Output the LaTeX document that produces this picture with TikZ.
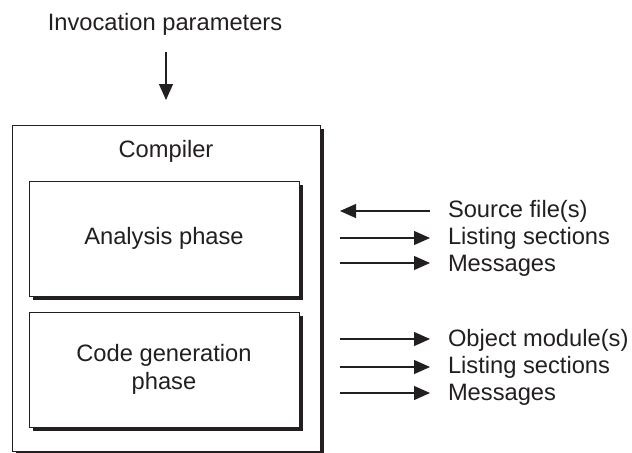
\documentclass[tikz,border=0pt]{standalone}
\usepackage{fontspec}
\setmainfont{Liberation Sans}
\usetikzlibrary{arrows.meta,shadows}
\definecolor{ink}{HTML}{231F20}
\begin{document}
\begin{tikzpicture}[x=0.5pt,y=-0.5pt,
  every node/.style={text=ink, font=\fontsize{11.85}{13.75}\selectfont, inner sep=0pt, outer sep=0pt},
  box/.style={draw=ink, line width=0.5pt, fill=white, align=center,
    general shadow={fill=ink, shadow xshift=2pt, shadow yshift=-2pt}},
  lab/.style={anchor=west, text height=0.716em, text depth=0pt},
  arr/.style={draw=ink, line width=0.6pt, -{Triangle[length=8pt,width=7pt]}}]
\useasboundingbox (0,0) rectangle (632,452);

\node[text height=0.716em, text depth=0pt] (inv) at (165,23) {Invocation parameters};
\coordinate (invA) at (166,52);
\coordinate (invB) at (166,100);
\draw[arr] (invA) -- (invB);

\node[box, minimum width=154pt, minimum height=163pt] (compiler) at (166,288) {};
\node[text height=0.716em, text depth=0pt] (comptitle) at (166,150) {Compiler};

\node[box, minimum width=135pt, minimum height=57.5pt] (analysis) at (164,238.5) {Analysis phase};
\node[box, minimum width=135pt, minimum height=57.5pt] (codegen) at (164,369.5) {Code generation\\phase};

% analysis arrows
\coordinate (a1l) at (340,211); \coordinate (a1r) at (430,211);
\coordinate (a2l) at (340,238); \coordinate (a2r) at (430,238);
\coordinate (a3l) at (340,263); \coordinate (a3r) at (430,263);
\draw[arr] (a1r) -- (a1l);
\draw[arr] (a2l) -- (a2r);
\draw[arr] (a3l) -- (a3r);
\node[lab] (t1) at (448,210) {Source file(s)};
\node[lab] (t2) at (448,237) {Listing sections};
\node[lab] (t3) at (448,264) {Messages};

% code generation arrows
\coordinate (c1l) at (340,339); \coordinate (c1r) at (430,339);
\coordinate (c2l) at (340,367); \coordinate (c2r) at (430,367);
\coordinate (c3l) at (340,393); \coordinate (c3r) at (430,393);
\draw[arr] (c1l) -- (c1r);
\draw[arr] (c2l) -- (c2r);
\draw[arr] (c3l) -- (c3r);
\node[lab] (u1) at (448,339) {Object module(s)};
\node[lab] (u2) at (448,366) {Listing sections};
\node[lab] (u3) at (448,393) {Messages};
\end{tikzpicture}
\end{document}
